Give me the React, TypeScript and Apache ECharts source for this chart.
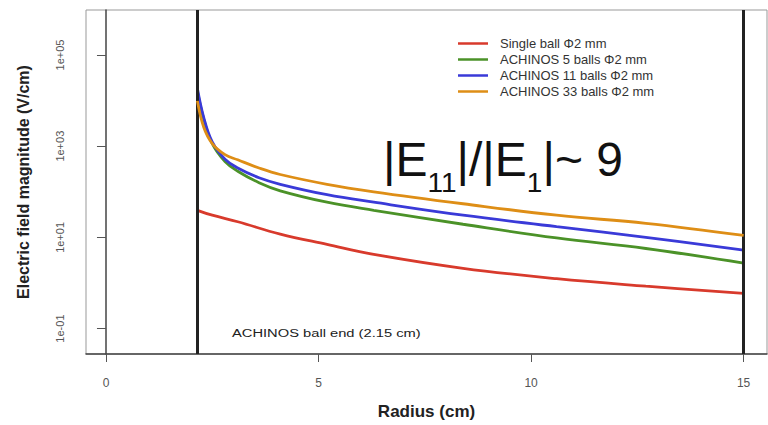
import React, { useEffect, useRef } from "react";
import * as echarts from "echarts";

const seriesNames = [
  "Single ball Φ2 mm",
  "ACHINOS 5 balls Φ2 mm",
  "ACHINOS 11 balls Φ2 mm",
  "ACHINOS 33 balls Φ2 mm",
];
const seriesColors = ["#d83a2c", "#4b9228", "#3a3ad8", "#de8e16"];

// radius (cm)
const radiusSingle = [2.15, 2.5, 3.1, 4.1, 5.2, 6.3, 8.4, 10.6, 12.7, 15];
const radiusMulti = [2.15, 2.3, 2.5, 2.8, 3.1, 3.6, 4.1, 5.2, 6.3, 8.4, 10.6, 12.7, 15];

// electric field magnitude (V/cm)
const fieldSingle = [39.2, 30.6, 22, 11.8, 7.0, 4.25, 2.1, 1.24, 0.85, 0.59];
const field5 = [16100, 3910, 1140, 461, 282, 158, 105, 59, 39.2, 19.4, 9.7, 5.7, 2.73];
const field11 = [18700, 4250, 1240, 518, 332, 203, 146, 86.3, 59, 30.6, 17.2, 10.0, 5.26];
const field33 = [9840, 2590, 1140, 652, 502, 332, 239, 146, 100, 54.6, 30.6, 20.3, 11.0];

const xTicks = [0, 5, 10, 15];
const yTicks = [0.1, 10, 1000, 100000];
const boundaryLines = [2.15, 15];

const zip = (xs: number[], ys: number[]) => xs.map((x, i) => [x, ys[i]]);

export default function App() {
  const ref = useRef<HTMLDivElement>(null);
  useEffect(() => {
    if (!ref.current) return;
    const chart = echarts.init(ref.current, null, { renderer: "svg" });
    const font = "Liberation Sans, Arial, sans-serif";
    const dataSets = [
      zip(radiusSingle, fieldSingle),
      zip(radiusMulti, field5),
      zip(radiusMulti, field11),
      zip(radiusMulti, field33),
    ];
    const lineSeries: any[] = dataSets.map((d, i) => ({
      type: "line",
      name: seriesNames[i],
      data: d,
      symbol: "none",
      smooth: 0.4,
      lineStyle: { color: seriesColors[i], width: 2.8 },
      itemStyle: { color: seriesColors[i] },
      z: 2 + i,
    }));
    lineSeries.push({
      type: "line",
      name: "boundaries",
      data: [],
      z: 10,
      markLine: {
        silent: true,
        symbol: "none",
        label: { show: false },
        lineStyle: { color: "#222", width: 3, type: "solid" },
        data: boundaryLines.map((v) => ({ xAxis: v })),
      },
    });
    chart.setOption({
      animation: false,
      backgroundColor: "#fff",
      textStyle: { fontFamily: font },
      grid: {
        left: 86,
        top: 10,
        right: 1,
        bottom: 63,
        show: true,
        borderColor: "#999",
        borderWidth: 1,
      },
      legend: {
        data: seriesNames,
        orient: "vertical",
        left: 458,
        top: 36,
        padding: 0,
        itemGap: 1,
        itemWidth: 30,
        itemHeight: 2.5,
        icon: "rect",
        textStyle: {
          fontFamily: font,
          fontSize: 13,
          color: "#333",
          lineHeight: 15,
          padding: [0, 0, 0, 7],
        },
      },
      xAxis: {
        type: "value",
        min: -0.47,
        max: 15.55,
        name: "Radius (cm)",
        nameLocation: "middle",
        nameGap: 49,
        nameTextStyle: { fontSize: 17, fontWeight: "bold", color: "#222", fontFamily: font },
        axisLine: { show: true, lineStyle: { color: "#444", width: 1.5 } },
        axisTick: { show: true, length: 8, customValues: xTicks, lineStyle: { color: "#555" } },
        axisLabel: {
          customValues: xTicks,
          margin: 23,
          fontSize: 12,
          color: "#555",
          fontFamily: font,
        },
        splitLine: { show: false },
      },
      yAxis: {
        type: "log",
        logBase: 10,
        min: 0.0277,
        max: 968000,
        name: "Electric field magnitude (V/cm)",
        nameLocation: "middle",
        nameRotate: 90,
        nameGap: 55,
        nameTextStyle: { fontSize: 16, fontWeight: "bold", color: "#222", fontFamily: font },
        axisLine: { show: true, lineStyle: { color: "#444", width: 1.5 } },
        axisTick: { show: true, length: 9, customValues: yTicks, lineStyle: { color: "#555" } },
        minorTick: { show: false },
        axisLabel: {
          customValues: yTicks,
          rotate: 90,
          margin: 26,
          align: "center",
          verticalAlign: "middle",
          fontSize: 11,
          color: "#555",
          fontFamily: font,
          formatter: (v: number) => {
            const e = Math.round(Math.log10(v));
            return "1e" + (e < 0 ? "-" : "+") + String(Math.abs(e)).padStart(2, "0");
          },
        },
        splitLine: { show: false },
      },
      graphic: [
        {
          type: "text",
          x: 232,
          y: 333,
          scaleX: 1.28,
          style: {
            text: "ACHINOS ball end (2.15 cm)",
            fontFamily: font,
            fontSize: 11.5,
            fill: "#222",
            textAlign: "left",
            textVerticalAlign: "middle",
          },
        },
        {
          type: "text",
          x: 383,
          y: 159,
          style: {
            text: "{m||E}{s|11}{m||/|E}{s|1}{m||~ 9}",
            fontFamily: font,
            fill: "#111",
            textAlign: "left",
            textVerticalAlign: "middle",
            rich: {
              m: { fontSize: 48, lineHeight: 72, verticalAlign: "middle", fontFamily: font, fill: "#111" },
              s: { fontSize: 28, lineHeight: 74, verticalAlign: "bottom", fontFamily: font, fill: "#111" },
            },
          },
        },
      ],
      series: lineSeries,
    });
    return () => chart.dispose();
  }, []);
  return (
    <div
      ref={ref}
      style={{ position: "fixed", left: 0, top: 0, width: 768, height: 425 }}
    />
  );
}
